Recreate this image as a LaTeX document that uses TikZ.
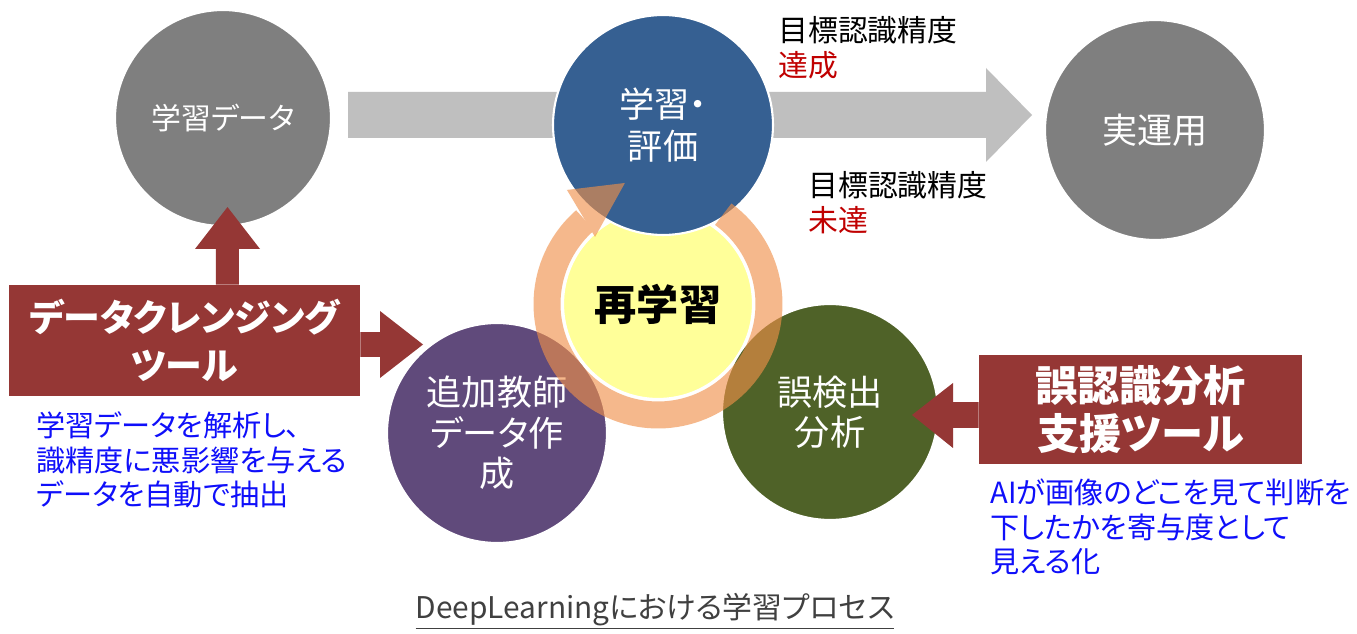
\documentclass[tikz,border=0pt]{standalone}
\usepackage{fontspec}
\setmainfont{Noto Sans CJK JP}[RawFeature=+palt]

\definecolor{stonegray}{RGB}{127,127,127}
\definecolor{pathgray}{RGB}{191,191,191}
\definecolor{learnblue}{RGB}{54,96,146}
\definecolor{teachpurple}{RGB}{96,74,123}
\definecolor{checkgreen}{RGB}{79,98,40}
\definecolor{retrainyellow}{RGB}{255,255,153}
\definecolor{looporange}{RGB}{240,144,73}
\definecolor{toolred}{RGB}{149,55,53}
\definecolor{goalred}{RGB}{192,0,0}
\definecolor{noteblue}{RGB}{15,15,250}
\definecolor{capgray}{RGB}{64,64,64}

\tikzset{
  ball/.style={circle, draw=white, line width=1.2pt, fill=#1, text=white, align=center,
    minimum size=4.4cm, inner sep=0pt},
  toolbox/.style={fill=toolred, text=white, align=center, inner sep=0pt},
  tool/.style={fill=toolred},
  goal/.style={anchor=west, align=left, inner sep=0pt, font=\fontsize{17}{20}\selectfont},
  note/.style={anchor=west, align=left, inner sep=0pt, text=noteblue, font=\fontsize{16.6}{19.5}\selectfont},
}

\begin{document}
\begin{tikzpicture}[x=0.02cm, y=0.02cm]
  \fill[white] (0,0) rectangle (1357,633);
  \useasboundingbox (0,0) rectangle (1357,633);

  % main flow
  \fill[pathgray] (348,541) -- (986,541) -- (986,565) -- (1032,518) -- (986,471) -- (986,495) -- (348,495) -- cycle;

  \node[ball=retrainyellow, minimum size=3.8cm, text=black, font=\fontsize{24}{28}\selectfont\bfseries] (retrain) at (658,329) {再学習};
  \node[ball=stonegray, minimum size=4.32cm, font=\fontsize{17}{20}\selectfont] (data) at (223,515) {学習データ};
  \node[ball=learnblue, font=\fontsize{20}{24}\selectfont] (train) at (663,508) {学習・\\評価};
  \node[ball=stonegray, font=\fontsize{20}{24}\selectfont] (deploy) at (1155,503) {実運用};
  \node[ball=teachpurple, font=\fontsize{20}{23}\selectfont] (extra) at (497,200) {追加教師\\データ作\\成};
  \node[ball=checkgreen, minimum size=4.32cm, font=\fontsize{20}{23}\selectfont] (fault) at (830,221) {誤検出\\分析};

  % loop arrow round the retraining
  \begin{scope}[transparency group, opacity=0.63]
    \draw[looporange, line width=0.54cm] ([shift={(54:2.22cm)}]retrain.center) arc[start angle=54, end angle=-229, radius=2.22cm];
    \fill[looporange] ([shift={(128.6:2.92cm)}]retrain.center) -- ([shift={(105.3:2.51cm)}]retrain.center)
      -- ([shift={(133.2:1.84cm)}]retrain.center) -- cycle;
  \end{scope}

  % tools
  \node[toolbox, minimum width=7.02cm, minimum height=2.22cm, font=\fontsize{21}{27}\selectfont\bfseries] (cleanse) at (184.5,292.5) {データクレンジング\\ツール};
  \node[toolbox, minimum width=6.46cm, minimum height=2.18cm, font=\fontsize{24}{27}\selectfont\bfseries] (fix) at (1140.5,223.5) {誤認識分析\\支援ツール};

  \fill[tool] ([xshift=0.63cm]cleanse.north) |- (195,384) -- ([xshift=0.09cm,yshift=0.4cm]data.south) -- (260,384) -| ([xshift=1.09cm]cleanse.north);
  \fill[tool] ([yshift=0.17cm]cleanse.east) -| (380,322) -- (423,288.5) -- (380,255) |- ([yshift=-0.33cm]cleanse.east);
  \fill[tool] ([yshift=0.15cm]fix.west) -| (953,250) -- (912,218) -- (953,185) |- ([yshift=-0.37cm]fix.west);

  \foreach \x/\y/\word/\id in {778/585/達成/reach, 808/430/未達/miss}
    \node[goal] (goal\id) at (\x,\y) {目標認識精度\\\textcolor{goalred}{\word}};

  \node[note] (cleansenote) at (36,173) {学習データを解析し、\\識精度に悪影響を与える\\データを自動で抽出};
  \node[note] (fixnote) at (990,106) {AIが画像のどこを見て判断を\\下したかを寄与度として\\見える化};

  \node[text=capgray, font=\fontsize{17}{20}\selectfont] (caption) at (655,22) {\underline{DeepLearningにおける学習プロセス}};
\end{tikzpicture}
\end{document}
